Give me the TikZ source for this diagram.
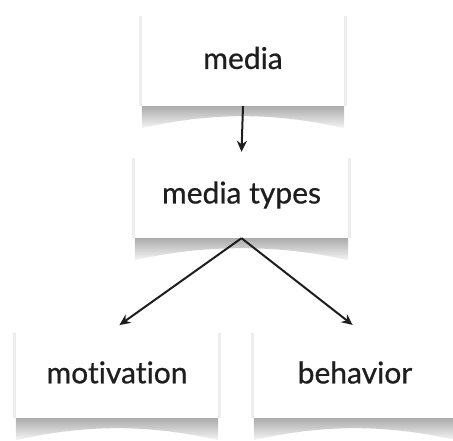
\documentclass[tikz,border=0pt]{standalone}
\usepackage{fontspec}
\setmainfont{Lato}[Ligatures=NoCommon, FakeBold=0.6]
\usetikzlibrary{arrows.meta,backgrounds}
\definecolor{ink}{HTML}{1E1E1E}
\tikzset{
  card/.style={draw=none, fill=white, inner sep=0pt, text=ink,
    font=\fontsize{30}{36}\selectfont, anchor=center},
  link/.style={draw=ink, line width=2pt, -{Stealth[length=11pt,width=10pt]}},
}
% curled paper shadow under a card, plus faint side edges
\newcommand\cardshadow[1]{%
  \fill[gray!14] ([xshift=-3pt,yshift=-6pt]#1.north west) rectangle ([xshift=3pt]#1.south east);
  \shade[top color=gray!65, bottom color=gray!8]
    (#1.south west) -- (#1.south east) -- ([yshift=-22pt]#1.south east)
    .. controls ([xshift=-70pt,yshift=-6pt]#1.south east) and ([xshift=70pt,yshift=-6pt]#1.south west)
    .. ([yshift=-22pt]#1.south west) -- cycle;
}
\begin{document}
\begin{tikzpicture}[x=1pt,y=-1pt]
\useasboundingbox (0,0) rectangle (453,441);
\node[card, minimum width=202pt, minimum height=96pt] (media) at (243,58) {media};
\node[card, minimum width=213pt, minimum height=86pt] (types) at (241.5,195) {media types};
\node[card, minimum width=202pt, minimum height=91pt] (motiv) at (117,372.5) {motivation};
\node[card, minimum width=202pt, minimum height=91pt] (behav) at (355,372.5) {behavior};
\begin{scope}[on background layer]
  \cardshadow{media}
  \cardshadow{types}
  \cardshadow{motiv}
  \cardshadow{behav}
\end{scope}
\draw[link] (media.south) -- (types.north);
\draw[link, shorten >=3pt] (types.south) -- (motiv.north);
\draw[link, shorten >=3pt] (types.south) -- (behav.north);
\end{tikzpicture}
\end{document}
